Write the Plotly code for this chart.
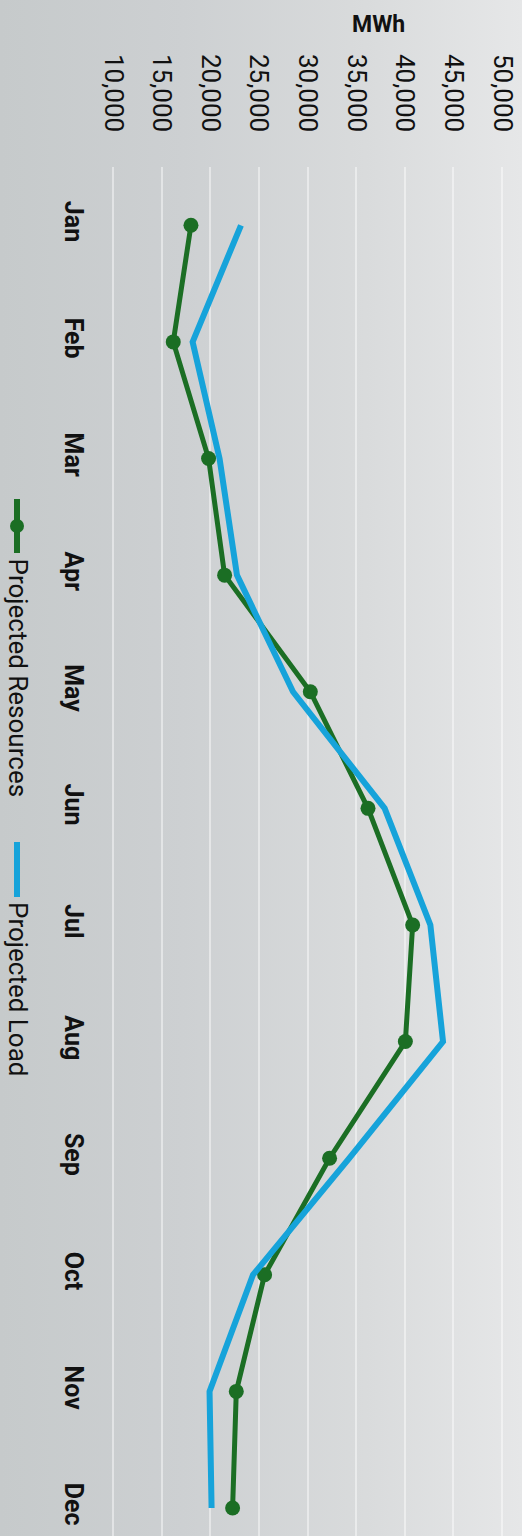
import base64
import plotly.graph_objects as go

# Monthly energy balance (MWh)
months = ["Jan", "Feb", "Mar", "Apr", "May", "Jun",
          "Jul", "Aug", "Sep", "Oct", "Nov", "Dec"]
projected_resources = [18020, 16200, 19830, 21480, 30290, 36220,
                       40810, 40060, 32270, 25590, 22680, 22300]
projected_load = [23160, 18190, 20960, 22750, 28510, 37930,
                  42630, 43930, 34300, 24400, 19930, 20140]
value_ticks = [10000, 15000, 20000, 25000, 30000, 35000, 40000, 45000, 50000]
value_tick_text = ["10,000", "15,000", "20,000", "25,000", "30,000",
                   "35,000", "40,000", "45,000", "50,000"]

W, H = 522, 1536
M_L, M_R, M_T, M_B = 111, 18, 167, 0
PW, PH = W - M_L - M_R, H - M_T - M_B

GREEN = "#1b6e24"
BLUE = "#16a3da"
FONT = "Roboto"


def px(xp):
    return (xp - M_L) / PW


def py(yp):
    return 1 - (yp - M_T) / PH


# soft grey backdrop, darker on the left
svg = f"""<svg xmlns='http://www.w3.org/2000/svg' width='{W}' height='{H}' viewBox='0 0 {W} {H}' preserveAspectRatio='none'>
<defs><linearGradient id='g' x1='0' y1='0' x2='1' y2='0'>
<stop offset='0' stop-color='#c6cacb'/>
<stop offset='0.35' stop-color='#cdd0d2'/>
<stop offset='0.7' stop-color='#d9dbdc'/>
<stop offset='1' stop-color='#e6e7e8'/>
</linearGradient></defs>
<rect width='{W}' height='{H}' fill='url(#g)'/></svg>"""
bg_src = "data:image/svg+xml;base64," + base64.b64encode(svg.encode()).decode()

fig = go.Figure()
fig.add_trace(go.Scatter(
    x=projected_resources, y=months, mode="lines+markers",
    name="Projected Resources",
    line=dict(color=GREEN, width=5),
    marker=dict(color=GREEN, size=15),
))
fig.add_trace(go.Scatter(
    x=projected_load, y=months, mode="lines",
    name="Projected Load",
    line=dict(color=BLUE, width=6),
))

fig.update_layout(
    width=W, height=H,
    margin=dict(l=M_L, r=M_R, t=M_T, b=M_B),
    paper_bgcolor="#d3d6d7",
    plot_bgcolor="rgba(0,0,0,0)",
    showlegend=False,
    font=dict(family=FONT, color="#111111"),
    images=[dict(
        source=bg_src, xref="paper", yref="paper",
        x=px(0), y=py(0), sizex=W / PW, sizey=H / PH,
        xanchor="left", yanchor="top", sizing="stretch", layer="below",
    )],
)

fig.update_xaxes(
    range=[9800, 50200], side="top",
    tickvals=value_ticks, ticktext=value_tick_text,
    tickangle=90, tickfont=dict(size=26, family=FONT, color="#111111"),
    ticks="", ticklabelstandoff=30,
    showgrid=True, gridcolor="rgba(255,255,255,0.45)", gridwidth=2,
    zeroline=False, showline=False,
)
fig.update_yaxes(
    type="category", categoryorder="array", categoryarray=months,
    range=[11.24, -0.5],
    tickangle=90, tickfont=dict(size=25, family=FONT, color="#111111", weight="bold"),
    ticks="", ticklabelstandoff=20,
    showgrid=False, zeroline=False, showline=False,
)

# axis unit
fig.add_annotation(
    text="<b>MWh</b>", xref="paper", yref="paper",
    x=px(378), y=py(24), xanchor="center", yanchor="middle",
    showarrow=False, font=dict(size=23, family=FONT, color="#111111"),
)

# legend, laid out vertically along the left edge
legend_items = [
    ("Projected Resources", GREEN, 499, 553, True, 556),
    ("Projected Load", BLUE, 842, 897, False, 900),
]
for label, color, y0, y1, has_marker, text_y in legend_items:
    fig.add_shape(
        type="line", xref="paper", yref="paper",
        x0=px(17), x1=px(17), y0=py(y0), y1=py(y1),
        line=dict(color=color, width=6),
    )
    if has_marker:
        cy = (y0 + y1) / 2
        fig.add_shape(
            type="circle", xref="paper", yref="paper",
            x0=px(10), x1=px(24), y0=py(cy - 7), y1=py(cy + 7),
            line=dict(color=color, width=0), fillcolor=color,
        )
    fig.add_annotation(
        text=label, xref="paper", yref="paper",
        x=px(18), y=py(text_y), xanchor="center", yanchor="top",
        textangle=90, showarrow=False,
        font=dict(size=26, family=FONT, color="#111111"),
    )

fig.write_html("out.html")
